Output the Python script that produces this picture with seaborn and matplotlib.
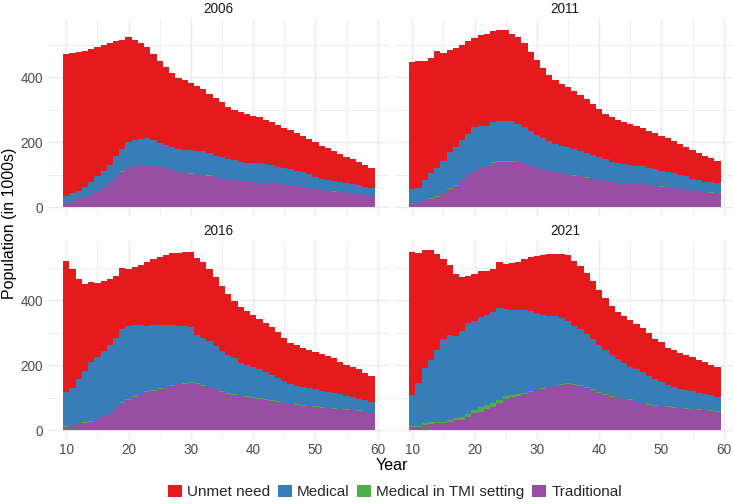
import numpy as np
import pandas as pd
import matplotlib
matplotlib.use("Agg")
import matplotlib.pyplot as plt
from matplotlib.patches import Patch
import seaborn as sns

# ---------------- data (population in 1000s, ages 10..59) ----------------
ages = list(range(10, 60))
panel_years = ["2006", "2011", "2016", "2021"]
categories = ["Unmet need", "Medical", "Medical in TMI setting", "Traditional"]
colors = ["#E41A1C", "#377EB8", "#4DAF4A", "#984EA3"]

# Traditional (bottom segment)
trad_2006 = [12, 16, 25, 31, 37, 49, 62, 74, 93, 108, 122, 125, 129, 130, 129, 125, 120, 115, 108, 105,
             104, 102, 99, 97, 92, 88, 85, 84, 82, 80, 78, 76, 75, 74, 71, 69, 68, 65, 62, 59,
             56, 53, 50, 48, 46, 45, 43, 41, 38, 36]
trad_2011 = [11, 14, 21, 27, 33, 45, 56, 67, 85, 102, 113, 123, 129, 137, 139, 141, 141, 139, 134, 129,
             122, 117, 113, 108, 105, 100, 98, 96, 90, 86, 83, 80, 79, 76, 74, 74, 72, 71, 69, 66,
             64, 62, 59, 57, 54, 52, 49, 47, 45, 43]
trad_2016 = [11, 15, 18, 22, 26, 34, 43, 52, 67, 84, 93, 102, 110, 118, 122, 126, 132, 137, 141, 143,
             145, 141, 136, 132, 126, 119, 113, 108, 104, 102, 99, 97, 93, 90, 87, 83, 80, 78, 76, 74,
             72, 70, 68, 66, 64, 63, 61, 58, 55, 52]
trad_2021 = [11, 11, 16, 18, 21, 22, 27, 32, 32, 41, 54, 57, 64, 73, 85, 97, 101, 104, 112, 118,
             123, 128, 133, 136, 139, 142, 139, 136, 131, 125, 116, 109, 103, 98, 95, 93, 87, 83, 78, 76,
             74, 72, 70, 67, 65, 64, 63, 61, 59, 57]

# Medical in TMI setting (thin green segment)
tmi_2006 = [0.3, 0.3, 0.3, 0.3, 0.3, 0.3, 0.3, 0.3, 0.5, 2.5, 0.3, 0.3, 0.3, 0.3, 0.3, 0.3, 0.3, 0.3, 0.3, 0.3,
            0.3, 0.3, 0.3, 2.0, 0.3, 0.3, 0.3, 0.3, 0.3, 0.3, 0.3, 0.3, 0.3, 0.3, 0.3, 0.3, 0.3, 0.3, 0.3, 0.3,
            0.3, 0.3, 0.3, 2.0, 0.3, 0.3, 0.3, 0.3, 0.3, 0.3]
tmi_2011 = [0.3, 0.3, 0.3, 0.3, 2.5, 0.3, 2.5, 0.3, 0.3, 0.3, 0.3, 0.3, 0.3, 2.5, 2.5, 2.0, 2.0, 0.5, 0.3, 0.3,
            0.3, 0.3, 0.3, 0.3, 0.3, 0.3, 2.0, 0.3, 2.0, 0.3, 0.3, 0.3, 0.3, 0.3, 0.3, 2.0, 0.3, 0.3, 0.3, 0.3,
            0.3, 0.3, 0.3, 0.3, 0.3, 0.3, 0.3, 0.3, 2.0, 0.3]
tmi_2016 = [2, 2, 2, 2, 2, 2, 2, 2, 2, 2, 2, 2, 2, 2, 3, 3, 2, 2, 2, 2,
            3, 3, 2, 2, 2, 3, 2, 2, 2, 2, 2, 2, 2, 2, 3, 2, 2, 2, 2, 2,
            2, 2, 2, 3, 2, 3, 2, 3, 2, 2]
tmi_2021 = [2, 2, 5, 6, 3, 5, 6, 7, 9, 10, 9, 15, 14, 12, 9, 7, 6, 9, 4, 3,
            2, 3, 1, 1, 2, 2, 2, 2, 3, 2, 2, 2, 2, 2, 2, 2, 1, 2, 2, 2,
            2, 2, 2, 2, 2, 2, 2, 2, 2, 1]

# Upper edge of the Medical (blue) segment
medtop_2006 = [36, 43, 51, 64, 77, 95, 113, 129, 158, 179, 200, 206, 210, 214, 207, 197, 191, 186, 179, 178,
               176, 174, 172, 168, 158, 155, 149, 146, 141, 138, 136, 136, 133, 130, 125, 120, 117, 113, 108, 103,
               93, 88, 84, 81, 78, 75, 73, 69, 64, 61]
medtop_2011 = [55, 61, 84, 105, 120, 144, 169, 185, 208, 227, 247, 250, 252, 262, 265, 265, 265, 256, 247, 235,
               222, 213, 203, 194, 190, 185, 179, 173, 167, 160, 154, 148, 141, 135, 133, 130, 128, 128, 120, 117,
               111, 108, 105, 99, 96, 88, 85, 79, 77, 74]
medtop_2016 = [118, 131, 159, 183, 210, 226, 245, 263, 285, 312, 321, 324, 324, 321, 323, 324, 324, 323, 322, 321,
               316, 293, 285, 273, 259, 245, 232, 221, 207, 201, 195, 189, 179, 170, 162, 152, 142, 136, 133, 130,
               127, 121, 118, 115, 113, 106, 103, 96, 93, 88]
medtop_2021 = [109, 146, 190, 217, 248, 279, 294, 291, 306, 329, 337, 347, 353, 362, 377, 372, 371, 371, 371, 366,
               360, 353, 350, 350, 345, 337, 322, 310, 295, 279, 262, 247, 232, 219, 208, 195, 187, 178, 168, 159,
               149, 140, 133, 127, 125, 121, 115, 112, 109, 103]

# Total population (top of the red Unmet need segment)
total_2006 = [473, 476, 478, 483, 488, 494, 500, 506, 512, 516, 525, 515, 505, 495, 473, 452, 432, 415, 398, 392,
              383, 374, 364, 350, 337, 323, 308, 300, 294, 288, 282, 279, 270, 264, 254, 245, 238, 230, 221, 209,
              200, 190, 182, 172, 163, 156, 149, 140, 130, 122]
total_2011 = [447, 451, 451, 460, 481, 476, 485, 491, 500, 512, 522, 531, 534, 542, 546, 546, 534, 525, 506, 480,
              454, 428, 407, 392, 380, 370, 359, 346, 333, 318, 302, 289, 278, 269, 262, 256, 250, 244, 234, 228,
              219, 213, 204, 194, 186, 176, 167, 158, 151, 142]
total_2016 = [520, 497, 465, 449, 455, 452, 458, 465, 473, 498, 495, 502, 508, 517, 526, 532, 538, 545, 545, 548,
              548, 528, 517, 495, 471, 442, 418, 396, 378, 366, 353, 343, 331, 316, 301, 285, 269, 261, 254, 248,
              242, 233, 227, 221, 210, 201, 195, 187, 177, 167]
total_2021 = [548, 545, 554, 554, 542, 526, 508, 481, 471, 475, 480, 489, 489, 495, 516, 511, 514, 517, 526, 532,
              535, 538, 542, 542, 542, 538, 520, 505, 483, 458, 431, 406, 383, 364, 351, 338, 326, 313, 298, 282,
              270, 254, 246, 236, 230, 225, 215, 209, 202, 193]

x_ticks = [10, 20, 30, 40, 50, 60]
y_ticks = [0, 200, 400]

series = {
    "2006": (trad_2006, tmi_2006, medtop_2006, total_2006),
    "2011": (trad_2011, tmi_2011, medtop_2011, total_2011),
    "2016": (trad_2016, tmi_2016, medtop_2016, total_2016),
    "2021": (trad_2021, tmi_2021, medtop_2021, total_2021),
}

rows = []
for yr, (tr, tm, mt, tot) in series.items():
    for i, a in enumerate(ages):
        med = mt[i] - tr[i] - tm[i]
        unmet = tot[i] - mt[i]
        rows += [
            (yr, a, "Traditional", tr[i]),
            (yr, a, "Medical in TMI setting", tm[i]),
            (yr, a, "Medical", med),
            (yr, a, "Unmet need", unmet),
        ]
df = pd.DataFrame(rows, columns=["year", "age", "category", "value"])

# ---------------- styling ----------------
sns.set_theme(style="white")
plt.rcParams["font.family"] = ["Liberation Sans", "DejaVu Sans"]

W, H = 733, 504
fig = plt.figure(figsize=(W / 100, H / 100), dpi=100)

def frac_box(left, top, right, bottom):
    return [left / W, 1 - bottom / H, (right - left) / W, (bottom - top) / H]

boxes = {
    "2006": frac_box(47.6, 18.5, 390.2, 216.3),
    "2011": frac_box(393.6, 18.5, 736.2, 216.3),
    "2016": frac_box(47.6, 241.0, 390.2, 439.3),
    "2021": frac_box(393.6, 241.0, 736.2, 439.3),
}

palette = dict(zip(categories, colors))
grid_col = "#EBEBEB"
tick_col = "#4D4D4D"

for idx, yr in enumerate(panel_years):
    ax = fig.add_axes(boxes[yr])
    sub = df[df["year"] == yr]
    sns.histplot(data=sub, x="age", weights="value", hue="category",
                 hue_order=categories, palette=palette, multiple="stack",
                 discrete=True, shrink=1.0, element="bars", linewidth=0,
                 alpha=1.0, legend=False, ax=ax)
    ax.set_xlim(7.0, 62.0)
    ax.set_ylim(-27.7, 581.7)
    ax.set_xticks(x_ticks)
    ax.set_xticks([15, 25, 35, 45, 55], minor=True)
    ax.set_yticks(y_ticks)
    ax.set_yticks([100, 300, 500], minor=True)
    ax.grid(which="major", color=grid_col, linewidth=1.0)
    ax.grid(which="minor", color=grid_col, linewidth=0.55)
    ax.set_axisbelow(True)
    for s in ax.spines.values():
        s.set_visible(False)
    ax.tick_params(which="both", length=0, labelsize=9.8, labelcolor=tick_col)
    ax.tick_params(axis="x", pad=3)
    ax.tick_params(axis="y", pad=3.3)
    if idx in (0, 1):
        ax.set_xticklabels([])
    else:
        ax.set_xticklabels([str(t) for t in x_ticks])
    if idx in (1, 3):
        ax.set_yticklabels([])
    else:
        ax.set_yticklabels([str(t) for t in y_ticks])
    ax.set_xlabel("")
    ax.set_ylabel("")
    ax.set_title(yr, fontsize=9.8, color="#1A1A1A", pad=4)

fig.text(10 / W, 1 - 223 / H, "Population (in 1000s)", rotation=90,
         ha="center", va="center", fontsize=11.5, color="#000000")
fig.text(392 / W, 1 - 465 / H, "Year", ha="center", va="center",
         fontsize=11.5, color="#000000")

handles = [Patch(facecolor=palette[c], edgecolor="none") for c in categories]
fig.legend(handles, categories, loc="center", bbox_to_anchor=(395 / W, 1 - 492 / H),
           ncol=4, frameon=False, fontsize=11, handlelength=0.9, handleheight=0.9,
           handletextpad=0.35, columnspacing=0.5, borderaxespad=0)

fig.savefig("out.png", dpi=100)
